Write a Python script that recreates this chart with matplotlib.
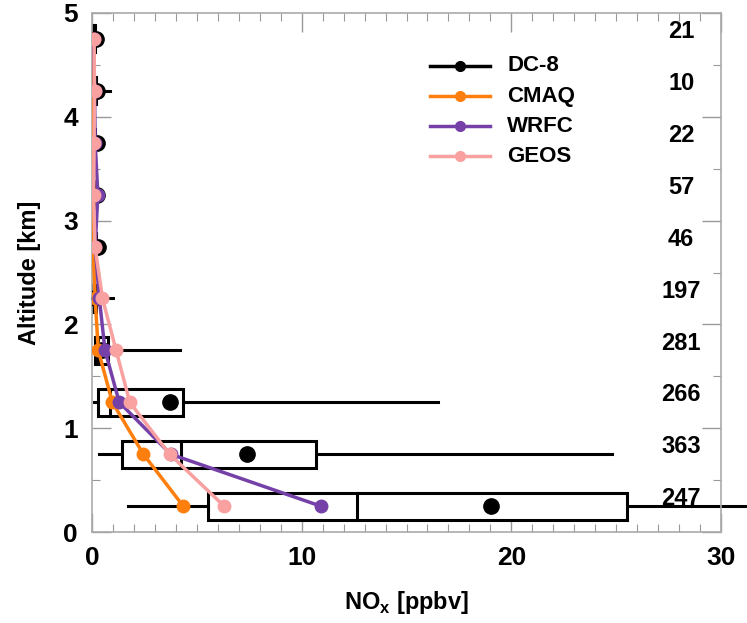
import matplotlib
matplotlib.use("Agg")
import matplotlib.pyplot as plt
from matplotlib.patches import Rectangle
from matplotlib.ticker import MultipleLocator

plt.rcParams["font.family"] = ["Liberation Sans", "DejaVu Sans"]

altitude = [0.25, 0.75, 1.25, 1.75, 2.25, 2.75, 3.25, 3.75, 4.25, 4.75]
n_obs = [247, 363, 266, 281, 197, 46, 57, 22, 10, 21]

# DC-8 observation statistics per altitude bin
dc8_p10 = [1.7, 0.33, 0.1, 0.05, 0.02, 0.03, 0.03, 0.03, 0.05, 0.03]
dc8_q1 = [5.55, 1.43, 0.28, 0.14, 0.05, 0.06, 0.06, 0.06, 0.08, 0.06]
dc8_med = [12.65, 4.25, 0.86, 0.3, 0.1, 0.1, 0.1, 0.1, 0.12, 0.1]
dc8_q3 = [25.5, 10.7, 4.34, 0.76, 0.2, 0.18, 0.16, 0.15, 0.2, 0.15]
dc8_p90 = [36.0, 24.8, 16.5, 4.2, 1.0, 0.45, 0.35, 0.35, 0.85, 0.3]
dc8_mean = [19.05, 7.4, 3.7, 0.5, 0.15, 0.28, 0.22, 0.22, 0.25, 0.2]

cmaq = [4.35, 2.45, 0.97, 0.3, 0.15, 0.05, 0.03, 0.02, 0.02, 0.02]
wrfc = [10.9, 3.75, 1.3, 0.62, 0.35, 0.15, 0.28, 0.15, 0.12, 0.08]
geos = [6.3, 3.7, 1.8, 1.15, 0.5, 0.14, 0.08, 0.1, 0.12, 0.1]

fig = plt.figure(figsize=(7.47, 6.23), dpi=100)
ax = fig.add_axes([92 / 747, 1 - 532 / 623, 629 / 747, 519 / 623])

half = 0.13
for i, z in enumerate(altitude):
    ax.plot([dc8_p10[i], dc8_q1[i]], [z, z], color="black", lw=2.2, clip_on=False, zorder=2)
    ax.plot([dc8_q3[i], dc8_p90[i]], [z, z], color="black", lw=2.2, clip_on=False, zorder=2)
    ax.add_patch(Rectangle((dc8_q1[i], z - half), dc8_q3[i] - dc8_q1[i], 2 * half,
                           facecolor="white", edgecolor="black", lw=2.2, zorder=2))
    ax.plot([dc8_med[i], dc8_med[i]], [z - half, z + half], color="black", lw=2.2, zorder=2)

ax.plot(dc8_mean, altitude, color="black", marker="o", ms=11, lw=0, zorder=3)

ax.plot(cmaq, altitude, color="#ff7f0e", marker="o", ms=9, lw=2.5, zorder=4)
ax.plot(wrfc, altitude, color="#7540a8", marker="o", ms=9, lw=2.5, zorder=5)
ax.plot(geos, altitude, color="#f9a0a0", marker="o", ms=9, lw=2.5, zorder=6)

for z, n in zip(altitude, n_obs):
    ax.text(28.1, z + 0.07, str(n), ha="center", va="center", fontsize=17, fontweight="bold")

# legend drawn by hand to match the original layout
leg_names = ["DC-8", "CMAQ", "WRFC", "GEOS"]
leg_colors = ["black", "#ff7f0e", "#7540a8", "#f9a0a0"]
for k, (name, col) in enumerate(zip(leg_names, leg_colors)):
    yy = 4.49 - k * 0.29
    ax.plot([16.1, 19.0], [yy, yy], color=col, lw=2.5)
    ax.plot([17.55], [yy], color=col, marker="o", ms=7)
    ax.text(19.8, yy, name, ha="left", va="center", fontsize=16, fontweight="bold")

ax.set_xlim(0, 30)
ax.set_ylim(0, 5)
ax.xaxis.set_major_locator(MultipleLocator(10))
ax.xaxis.set_minor_locator(MultipleLocator(1))
ax.yaxis.set_major_locator(MultipleLocator(1))
ax.yaxis.set_minor_locator(MultipleLocator(0.5))
ax.tick_params(which="both", direction="in", top=True, right=True, color="#999999")
ax.tick_params(which="major", length=14, width=1, labelsize=19, pad=10)
ax.tick_params(which="minor", length=6, width=0.8)
for lab in ax.get_xticklabels() + ax.get_yticklabels():
    lab.set_fontweight("bold")
for sp in ax.spines.values():
    sp.set_color("#aaaaaa")
    sp.set_linewidth(1.2)

ax.set_xlabel("NO$_\\mathregular{x}$ [ppbv]", fontsize=17, fontweight="bold", labelpad=14)
ax.set_ylabel("Altitude [km]", fontsize=17, fontweight="bold", labelpad=16)

fig.savefig("out.png", dpi=100)
